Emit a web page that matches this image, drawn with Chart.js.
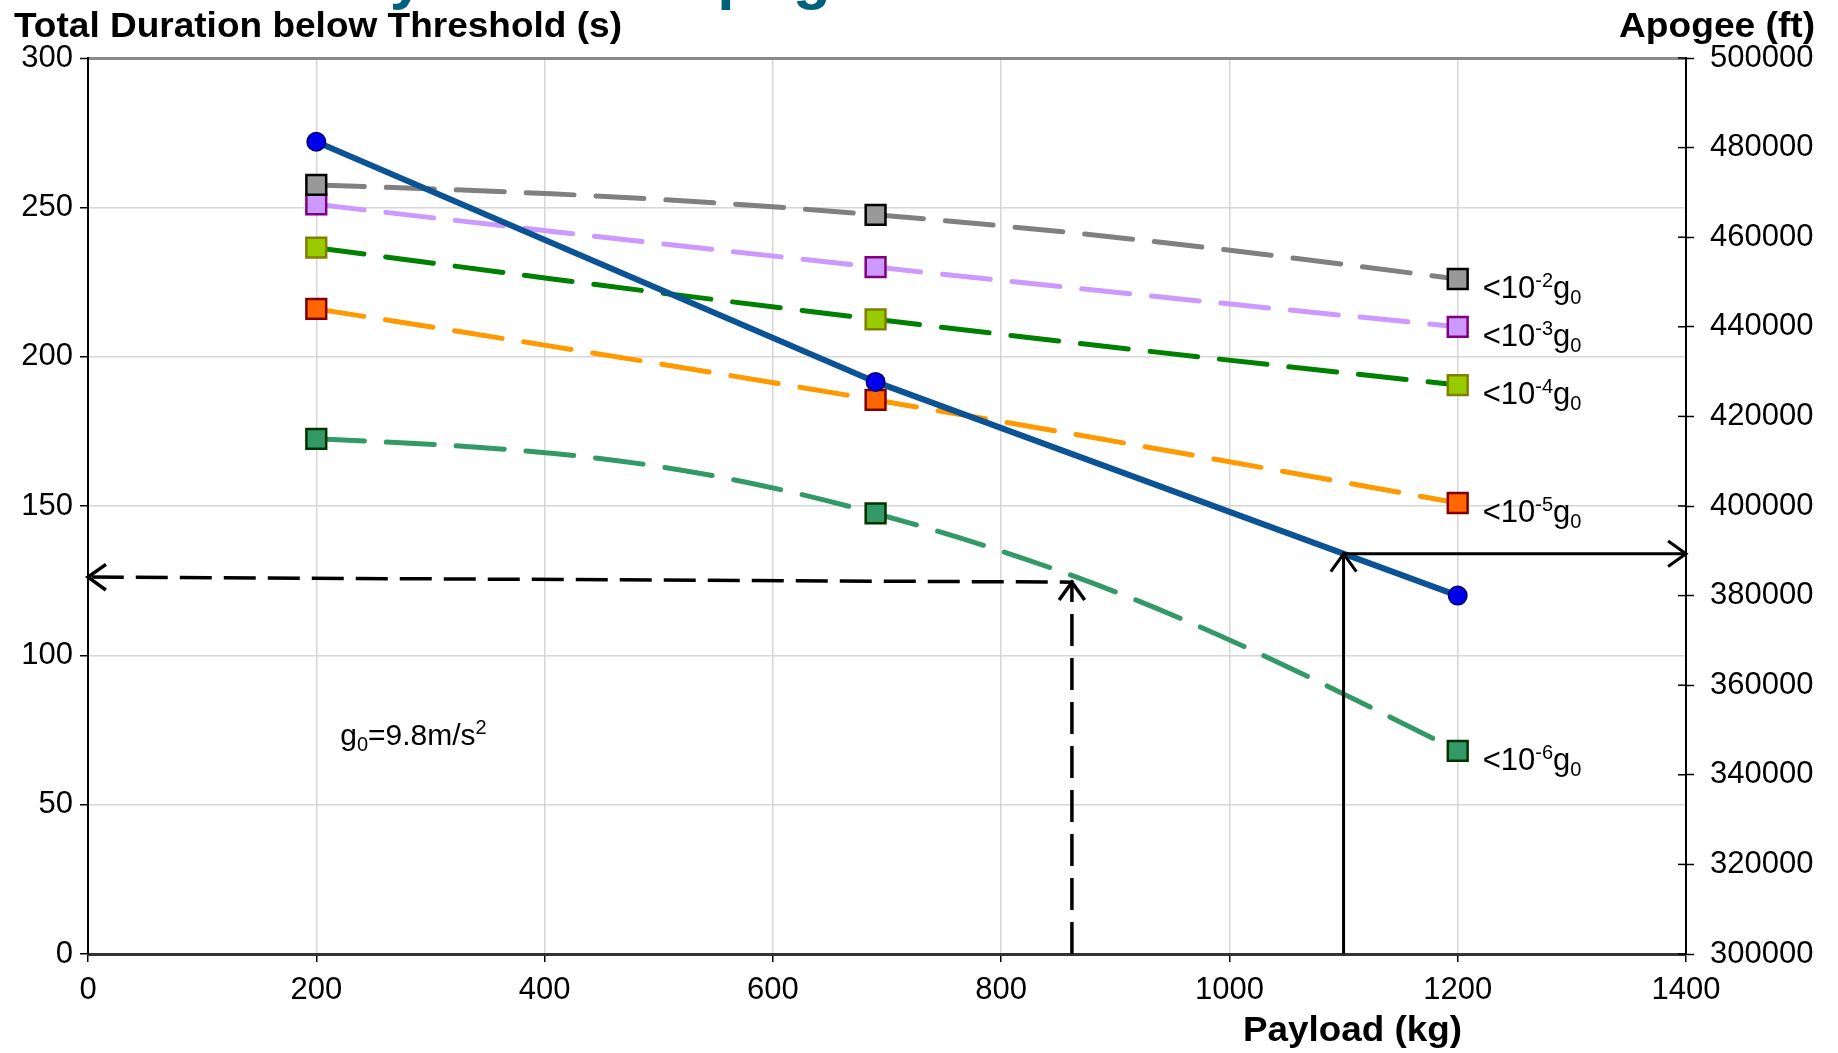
<!DOCTYPE html>
<html>
<head>
<meta charset="utf-8">
<script src="https://cdn.jsdelivr.net/npm/chart.js@4.4.1/dist/chart.umd.min.js"></script>
<style>
html, body { margin: 0; padding: 0; background: #fff; }
#wrap { position: relative; width: 1838px; height: 1053px; }
</style>
</head>
<body>
<div id="wrap"><canvas id="chart"></canvas></div>
<script>
// payload (kg) on x
const payload = [200, 690, 1200]
// total duration below threshold (s), one list per threshold
const below2 = [257.5, 247.5, 226]
const below3 = [251, 230, 210]
const below4 = [236.5, 212.5, 190.5]
const below5 = [216, 185.5, 151]
const below6 = [172.5, 147.5, 68]
const exponents = ['-2', '-3', '-4', '-5', '-6']
// apogee (ft), right axis
const apogee = [481300, 427700, 380000]
// reading arrows (kg, s)
const dashArrowX = [862, 862, 0]
const dashArrowY = [0, 124.5, 126.2]
const solidArrowX = [1100, 1100, 1400]
const solidArrowY = [0, 134, 134]

const FONT = '"Liberation Sans", Arial, sans-serif'

const lineColors = ['#808080', '#cc99ff', '#008000', '#ff9900', '#339966']
const fillColors = ['#999999', '#cc99ff', '#99cc00', '#ff6600', '#339966']
const edgeColors = ['#000000', '#800080', '#808000', '#800000', '#003300']

function pts(xs, ys) {
    return xs.map((x, i) => ({ x: x, y: ys[i] }))
}

function drawRich(ctx, parts, x, y, size) {
    parts.forEach(p => {
        let s = (p.sup || p.sub) ? Math.round(size * 0.66) : size
        let dy = p.sup ? -size * 0.36 : (p.sub ? size * 0.2 : 0)
        ctx.font = s + 'px ' + FONT
        ctx.fillText(p.t, x, y + dy)
        x += ctx.measureText(p.t).width
    })
}

// bold narrow-looking title: squeeze Liberation Sans Bold to the given width
function narrowTitle(ctx, text, left, baseline, width) {
    ctx.font = 'bold 35px ' + FONT
    const w = ctx.measureText(text).width
    ctx.save()
    ctx.translate(left, baseline)
    ctx.scale(width / w, 1)
    ctx.textAlign = 'left'
    ctx.fillText(text, 0, 0)
    ctx.restore()
}

function arrowHead(ctx, from, tip) {
    let a = Math.atan2(tip.y - from.y, tip.x - from.x)
    let len = 22, spread = 0.62
    ctx.beginPath()
    ctx.moveTo(tip.x - len * Math.cos(a - spread), tip.y - len * Math.sin(a - spread))
    ctx.lineTo(tip.x, tip.y)
    ctx.lineTo(tip.x - len * Math.cos(a + spread), tip.y - len * Math.sin(a + spread))
    ctx.stroke()
}

// flatten the spline ends the way a spreadsheet smooths a 3 point curve
const smoothEnds = {
    id: 'smoothEnds',
    beforeDatasetDraw(chart, args) {
        const line = args.meta.dataset
        if (!line || !line.options.tension) return
        line.updateControlPoints(chart.chartArea, 'x')
        const p = line.points
        if (p.length < 3) return
        const a = p[0], b = p[1], n = p.length
        a.cp2x = a.x + (b.cp1x - a.x) * 0.6
        a.cp2y = a.y + (b.cp1y - a.y) * 0.6
        const z = p[n - 1], y = p[n - 2]
        z.cp1x = z.x + (y.cp2x - z.x) * 0.6
        z.cp1y = z.y + (y.cp2y - z.y) * 0.6
        line._path = undefined
    }
}

const extras = {
    id: 'extras',
    afterDraw(chart) {
        const ctx = chart.ctx
        const xs = chart.scales.x
        const ys = chart.scales.y
        const y2 = chart.scales.y2
        ctx.save()

        // clipped slide title above the chart
        ctx.fillStyle = '#00627a'
        ctx.font = 'bold 62px ' + FONT
        ctx.textBaseline = 'alphabetic'
        ctx.fillText('Payload vs. Apogee', 314, -3)

        // axis titles
        ctx.fillStyle = '#000'
        narrowTitle(ctx, 'Total Duration below Threshold (s)', 14, 37, 608)
        narrowTitle(ctx, 'Apogee (ft)', 1619, 37, 196)
        narrowTitle(ctx, 'Payload (kg)', 1243, 1041, 219)

        // threshold labels at the end of each curve
        ctx.textAlign = 'left'
        for (let i = 0; i < exponents.length; i++) {
            const meta = chart.getDatasetMeta(3 + i)
            const el = meta.data[meta.data.length - 1]
            drawRich(ctx, [{ t: '<10' }, { t: exponents[i], sup: true }, { t: 'g' }, { t: '0', sub: true }],
                el.x + 25, el.y + 19, 31)
        }

        // g0 note
        drawRich(ctx, [{ t: 'g' }, { t: '0', sub: true }, { t: '=9.8m/s' }, { t: '2', sup: true }],
            xs.getPixelForValue(221), ys.getPixelForValue(70), 30)

        // arrowheads
        ctx.strokeStyle = '#000'
        ctx.setLineDash([])
        ctx.lineCap = 'butt'
        ctx.lineJoin = 'miter'
        ;[0, 1].forEach(d => {
            const p = chart.getDatasetMeta(d).data
            ctx.lineWidth = d === 0 ? 3 : 3.5
            arrowHead(ctx, p[0], p[1])
            arrowHead(ctx, p[1], p[2])
        })

        // inner tick marks on the apogee axis
        ctx.lineWidth = 1.5
        y2.ticks.forEach(t => {
            const y = y2.getPixelForValue(t.value)
            ctx.beginPath()
            ctx.moveTo(y2.left - 8, y)
            ctx.lineTo(y2.left, y)
            ctx.stroke()
        })
        ctx.restore()
    }
}

const series = [below2, below3, below4, below5, below6]
const datasets = [
    {
        data: pts(solidArrowX, solidArrowY), yAxisID: 'y', borderColor: '#000', borderWidth: 3,
        pointRadius: 0, tension: 0, clip: false, borderJoinStyle: 'miter'
    },
    {
        data: pts(dashArrowX, dashArrowY), yAxisID: 'y', borderColor: '#000', borderWidth: 3.5,
        borderDash: [32, 12], pointRadius: 0, tension: 0, clip: false
    },
    {
        data: pts(payload, apogee), yAxisID: 'y2', borderColor: '#0b5394', borderWidth: 6,
        pointStyle: 'circle', pointRadius: 9, pointBackgroundColor: '#0000ee',
        pointBorderColor: '#00008b', pointBorderWidth: 2, tension: 0
    }
]
series.forEach((s, i) => {
    datasets.push({
        data: pts(payload, s), yAxisID: 'y', borderColor: lineColors[i], borderWidth: 5,
        borderDash: [48, 22], borderCapStyle: 'round', tension: 0.4,
        pointStyle: 'rect', pointRadius: 14, pointBackgroundColor: fillColors[i],
        pointBorderColor: edgeColors[i], pointBorderWidth: 2.5
    })
})

const tickFont = { size: 31, family: FONT }
const plain = v => String(v)

new Chart(document.getElementById('chart'), {
    type: 'line',
    data: { datasets: datasets },
    options: {
        responsive: true,
        maintainAspectRatio: false,
        animation: false,
        layout: { padding: { top: 58, left: 0, right: 0, bottom: 0 } },
        plugins: { legend: { display: false }, tooltip: { enabled: false } },
        scales: {
            x: {
                type: 'linear', min: 0, max: 1400,
                ticks: { stepSize: 200, font: tickFont, color: '#000', padding: 10, maxRotation: 0, callback: plain },
                grid: {
                    color: c => (c.tick && (c.tick.value === 0 || c.tick.value === 1400)) ? 'rgba(0,0,0,0)' : '#d6d6d6',
                    lineWidth: 1.5, tickLength: 8, tickColor: '#000', tickWidth: 1.5
                },
                border: { color: '#333', width: 3 },
                afterFit: s => { s.height = 99 }
            },
            y: {
                position: 'left', min: 0, max: 300,
                ticks: { stepSize: 50, font: tickFont, color: '#000', padding: 7, callback: plain },
                grid: {
                    color: c => c.tick.value === 300 ? '#8a8a8a' : (c.tick.value === 0 ? 'rgba(0,0,0,0)' : '#d6d6d6'),
                    lineWidth: c => c.tick.value === 300 ? 3 : 1.5,
                    tickLength: 8, tickColor: '#000', tickWidth: 1.5
                },
                border: { color: '#000', width: 2 },
                afterFit: s => { s.width = 88 }
            },
            y2: {
                position: 'right', min: 300000, max: 500000,
                ticks: { stepSize: 20000, font: tickFont, color: '#000', padding: 16, callback: plain },
                grid: { drawOnChartArea: false, tickLength: 8, tickColor: '#000', tickWidth: 1.5 },
                border: { color: '#000', width: 2 },
                afterFit: s => { s.width = 152 }
            }
        }
    },
    plugins: [smoothEnds, extras]
})
</script>
</body>
</html>
